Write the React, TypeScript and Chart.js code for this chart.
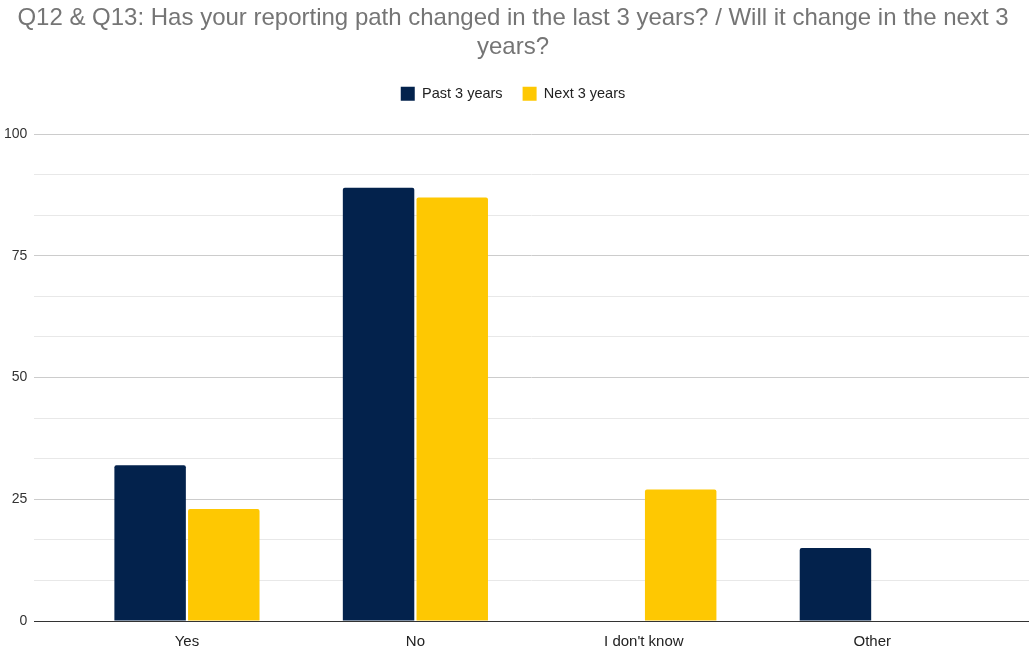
import React, { useEffect, useRef } from "react";
import { Chart, registerables } from "chart.js";

Chart.register(...registerables);

const categories = ["Yes", "No", "I don't know", "Other"];
const pastValues: (number | null)[] = [32, 89, null, 15];
const nextValues: (number | null)[] = [23, 87, 27, null];
const yTickValues = [0, 25 / 3, 50 / 3, 25, 100 / 3, 125 / 3, 50, 175 / 3, 200 / 3, 75, 250 / 3, 275 / 3, 100];
const titleLines = [
  "Q12 & Q13: Has your reporting path changed in the last 3 years? / Will it change in the next 3",
  "years?",
];

const isMajor = (v: number) => Math.abs(v - Math.round(v / 25) * 25) < 0.01;

const legendMargin = {
  id: "legendMargin",
  beforeInit(chart: any) {
    const legend = chart.legend;
    if (!legend) return;
    const orig = legend.fit;
    legend.fit = function () {
      orig.call(this);
      this.height += 23;
    };
  },
};

export default function App() {
  const ref = useRef<HTMLCanvasElement | null>(null);
  useEffect(() => {
    if (!ref.current) return;
    const chart = new Chart(ref.current, {
      type: "bar",
      data: {
        datasets: [
          {
            label: "Past 3 years",
            data: categories.map((_, i) => ({ x: i, y: pastValues[i] })) as any,
            backgroundColor: "#03224c",
            borderRadius: 2,
            borderSkipped: "bottom",
            categoryPercentage: 0.645,
            barPercentage: 0.97,
          },
          {
            label: "Next 3 years",
            data: categories.map((_, i) => ({ x: i, y: nextValues[i] })) as any,
            backgroundColor: "#fec802",
            borderRadius: 2,
            borderSkipped: "bottom",
            categoryPercentage: 0.645,
            barPercentage: 0.97,
          },
        ],
      },
      plugins: [legendMargin],
      options: {
        animation: false,
        responsive: false,
        maintainAspectRatio: false,
        layout: { padding: { left: -3, right: 0, top: 2, bottom: -14 } },
        plugins: {
          title: {
            display: true,
            text: titleLines,
            color: "#757575",
            font: { family: "'Liberation Sans', Arial, sans-serif", size: 24, weight: "normal" },
            padding: { top: 2, bottom: 5 },
            lineHeight: 1.15,
          },
          legend: {
            display: true,
            position: "top",
            labels: {
              boxWidth: 14,
              boxHeight: 14,
              color: "#222222",
              font: { family: "'Liberation Sans', Arial, sans-serif", size: 14.5 },
              padding: 20,
            },
          },
          tooltip: { enabled: false },
        },
        scales: {
          x: {
            type: "linear",
            min: -0.668,
            max: 3.686,
            offset: false,
            afterBuildTicks: (axis: any) => {
              axis.ticks = categories.map((_, i) => ({ value: i }));
            },
            ticks: {
              color: "#222222",
              font: { family: "'Liberation Sans', Arial, sans-serif", size: 15 },
              padding: 12,
              callback: (v: any) => categories[Math.round(Number(v))] ?? "",
              maxRotation: 0,
              autoSkip: false,
            },
            grid: { display: false, drawTicks: false },
            border: { display: true, color: "#333333", width: 1 },
          },
          y: {
            type: "linear",
            min: 0,
            max: 100,
            afterBuildTicks: (axis: any) => {
              axis.ticks = yTickValues.map((v) => ({ value: v }));
            },
            ticks: {
              color: "#333333",
              font: { family: "'Liberation Sans', Arial, sans-serif", size: 14 },
              padding: 7,
              autoSkip: false,
              callback: (v: any) => (isMajor(Number(v)) ? String(Math.round(Number(v))) : ""),
            },
            grid: {
              drawTicks: false,
              color: (ctx: any) => (isMajor(ctx.tick?.value ?? 0) ? "#cccccc" : "#e8e8e8"),
              lineWidth: 1,
            },
            border: { display: false },
          },
        },
      },
    });
    return () => chart.destroy();
  }, []);
  return (
    <div style={{ position: "fixed", left: 0, top: 0, width: 1029, height: 649, background: "#fff" }}>
      <canvas ref={ref} width={1029} height={649} style={{ width: 1029, height: 649 }} />
    </div>
  );
}
